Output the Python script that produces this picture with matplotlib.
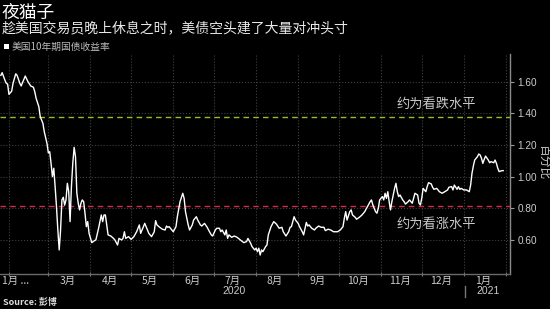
import matplotlib
matplotlib.use('Agg')
import matplotlib.pyplot as plt
import matplotlib.transforms as mtrans
from matplotlib.lines import Line2D
from matplotlib.patches import Rectangle
from matplotlib.ticker import FixedLocator, FixedFormatter, NullFormatter
import matplotlib.dates as mdates
import pandas as pd

plt.rcParams['font.family'] = ['Noto Sans CJK SC', 'DejaVu Sans']

# ---- data (days since 2020-01-01, US 10y yield in %) ----
day_offsets = [
    25, 26, 28, 29, 30, 31, 33, 34, 36, 37, 39, 40, 41, 43, 45, 47, 49, 50, 51, 53,
    54, 55, 56, 57, 59, 60, 61, 62, 63, 64, 65, 66, 67, 68, 69, 70, 71, 72, 73, 74,
    75, 76, 77, 78, 79, 80, 81, 82, 83, 84, 85, 86, 87, 88, 89, 90,
    92, 94, 95, 97, 99, 100, 101, 102, 104, 106, 108, 109, 111, 112, 114, 115, 116, 117, 119, 121,
    123, 125, 127, 128, 130, 131, 133, 134, 136, 138, 139, 140, 142, 144, 146, 147, 148, 149, 151,
    152, 154, 155, 157, 159, 160, 161, 163, 164, 166, 167, 169, 170, 172, 173, 175, 177, 178, 180, 181,
    183, 184, 186, 187, 188, 190, 191, 192, 193, 195, 197, 199, 200, 202, 204, 206, 207, 209, 210, 212,
    213, 214, 215, 216, 217, 218, 220, 221, 222, 224, 226, 228, 230, 232, 233, 235, 237, 238, 239, 241, 242,
    244, 245, 247, 248, 250, 251, 252, 254, 256, 257, 259, 261, 263, 264, 266, 268, 270, 272,
    273, 275, 277, 278, 279, 280, 282, 283, 284, 286, 287, 289, 291, 293, 295, 297, 298, 299, 301, 302, 303, 304,
    306, 307, 308, 309, 310, 311, 312, 313, 314, 315, 316, 317, 318, 319, 321, 322, 323, 325, 326, 328, 329, 330, 332, 333, 334,
    335, 336, 338, 339, 340, 342, 343, 344, 346, 348, 350, 352, 354, 355, 357, 358, 359, 361, 362, 363, 364,
    366, 368, 370, 371, 372, 373, 374, 376, 377, 378, 379, 380, 381, 382, 384, 385, 386, 388, 389, 390, 391, 392, 394, 395,
]
yield_pct = [
    1.640, 1.657, 1.610, 1.590, 1.585, 1.520, 1.540, 1.590, 1.650, 1.640, 1.590, 1.573, 1.594, 1.636, 1.600, 1.573, 1.565, 1.537, 1.495, 1.442,
    1.380, 1.358, 1.337, 1.284, 1.210, 1.150, 1.158, 1.084, 1.000, 1.053, 0.937, 0.810, 0.663, 0.537, 0.663, 0.853, 0.870, 0.820, 0.853, 0.958,
    0.905, 0.716, 0.937, 1.084, 1.185, 1.126, 0.895, 0.832, 0.790, 0.832, 0.853, 0.842, 0.769, 0.684, 0.716, 0.642,
    0.583, 0.596, 0.600, 0.674, 0.758, 0.716, 0.758, 0.758, 0.632, 0.625, 0.610, 0.600, 0.568, 0.610, 0.600, 0.610, 0.652, 0.610, 0.621, 0.604,
    0.621, 0.652, 0.695, 0.642, 0.684, 0.705, 0.663, 0.642, 0.621, 0.652, 0.722, 0.695, 0.680, 0.668, 0.663, 0.688, 0.680, 0.684, 0.663,
    0.652, 0.684, 0.747, 0.842, 0.895, 0.863, 0.779, 0.695, 0.663, 0.695, 0.726, 0.747, 0.726, 0.695, 0.688, 0.705, 0.680, 0.663, 0.632, 0.625,
    0.663, 0.674, 0.674, 0.652, 0.663, 0.632, 0.663, 0.610, 0.632, 0.617, 0.625, 0.617, 0.610, 0.596, 0.583, 0.590, 0.610, 0.579, 0.558, 0.537,
    0.548, 0.526, 0.548, 0.505, 0.537, 0.526, 0.558, 0.568, 0.632, 0.684, 0.716, 0.700, 0.674, 0.680, 0.652, 0.625, 0.652, 0.680, 0.684, 0.747, 0.726,
    0.705, 0.684, 0.652, 0.632, 0.711, 0.688, 0.695, 0.674, 0.663, 0.674, 0.688, 0.680, 0.680, 0.659, 0.668, 0.663, 0.652, 0.652,
    0.652, 0.663, 0.684, 0.737, 0.779, 0.726, 0.779, 0.790, 0.758, 0.743, 0.731, 0.743, 0.758, 0.779, 0.810, 0.842, 0.853, 0.821, 0.779, 0.769, 0.800, 0.853,
    0.874, 0.853, 0.895, 0.863, 0.905, 0.842, 0.790, 0.842, 0.884, 0.926, 0.958, 0.905, 0.874, 0.884, 0.853, 0.842, 0.827, 0.842, 0.853, 0.832, 0.863, 0.895, 0.884, 0.832, 0.821,
    0.863, 0.926, 0.905, 0.937, 0.962, 0.954, 0.933, 0.920, 0.926, 0.905, 0.895, 0.905, 0.916, 0.933, 0.937, 0.916, 0.947, 0.920, 0.937, 0.920, 0.926,
    0.916, 0.916, 0.905, 0.947, 1.021, 1.067, 1.105, 1.126, 1.143, 1.137, 1.116, 1.084, 1.109, 1.130, 1.105, 1.088, 1.095, 1.088, 1.105, 1.084, 1.053, 1.032, 1.038, 1.038,
]
bearish_level = 1.38
bullish_level = 0.815
y_ticks = [0.60, 0.80, 1.00, 1.20, 1.40, 1.60]
month_labels = ['3月', '4月', '5月', '6月', '7月', '8月', '9月', '10月', '11月', '12月', '1月']

title = '夜猫子'
subtitle = '趁美国交易员晚上休息之时，美债空头建了大量对冲头寸'
legend_label = '美国10年期国债收益率'
bearish_text = '约为看跌水平'
bullish_text = '约为看涨水平'
unit_text = '百分比'
source_text = 'Source: 彭博'

W, H = 550, 309
base = pd.Timestamp('2020-01-01')
dates = base + pd.to_timedelta(day_offsets, unit='D')

fig = plt.figure(figsize=(5.5, 3.09), dpi=100, facecolor='black')
ax = fig.add_axes([0, 35 / H, 510 / W, 220 / H])
ax.set_facecolor('black')

ax.plot(dates, yield_pct, color='white', lw=1.0, zorder=4)
ax.axhline(bearish_level, color='#95c11f', lw=1.0, ls=(0, (4, 3)), zorder=3)
ax.axhline(bullish_level, color='#d42a48', lw=1.0, ls=(0, (4, 3)), zorder=3)

ax.set_xlim(base + pd.Timedelta(days=24.4), base + pd.Timedelta(days=400))
ax.set_ylim(0.385, 1.775)

# x ticks: month starts (grid), mid-month labels
month_starts = pd.date_range('2020-02-01', '2021-02-01', freq='MS')
mid_months = pd.date_range('2020-03-01', '2021-01-01', freq='MS') + pd.Timedelta(days=14)
ax.xaxis.set_major_locator(FixedLocator(mdates.date2num(month_starts)))
ax.xaxis.set_major_formatter(NullFormatter())
ax.xaxis.set_minor_locator(FixedLocator(mdates.date2num(mid_months)))
ax.xaxis.set_minor_formatter(FixedFormatter(month_labels))
ax.tick_params(axis='x', which='major', length=2.5, direction='inout', color='#777777', width=0.8)
ax.tick_params(axis='x', which='minor', length=0, pad=1.5, labelsize=7.5, labelcolor='#cccccc')

ax.yaxis.tick_right()
ax.set_yticks(y_ticks)
ax.set_yticklabels([f'{v:.2f}' for v in y_ticks], family=['Liberation Sans', 'DejaVu Sans'])
ax.tick_params(axis='y', length=3, color='#999999', width=0.8, pad=2.5, labelsize=7.2, labelcolor='#cccccc')

ax.grid(True, which='major', color='#404040', ls=':', lw=0.8)
ax.grid(False, which='minor')

for s in ['left', 'top']:
    ax.spines[s].set_visible(False)
ax.spines['right'].set_color('#8a8a8a')
ax.spines['right'].set_linewidth(1.0)
ax.spines['bottom'].set_color('#6a6a6a')
ax.spines['bottom'].set_linewidth(1.0)

# annotations for the levels
blend = mtrans.blended_transform_factory(ax.transAxes, ax.transData)
ax.text(397 / 510, 1.456, bearish_text, transform=blend, fontsize=9.5, color='#c8c8c8', va='center', ha='left')
ax.text(397 / 510, 0.701, bullish_text, transform=blend, fontsize=9.5, color='#c8c8c8', va='center', ha='left')

# year labels and separator
xt = ax.get_xaxis_transform()
ax.text(pd.Timestamp('2020-07-16'), -17.5 / 220, '2020', transform=xt, fontsize=7.5,
        color='#cccccc', ha='center', va='center', family=['Liberation Sans', 'DejaVu Sans'])
ax.text(pd.Timestamp('2021-01-19'), -17.5 / 220, '2021', transform=xt, fontsize=7.5,
        color='#cccccc', ha='center', va='center', family=['Liberation Sans', 'DejaVu Sans'])
sep_x = mdates.date2num(pd.Timestamp('2021-01-02'))
ax.add_line(Line2D([sep_x, sep_x], [-12 / 220, -23 / 220], transform=xt, color='#777777',
                   lw=1.0, clip_on=False))

# first (truncated) month label
fig.text(2 / W, 1 - 280.5 / H, '1月 ...', fontsize=7.5, color='#cccccc', va='center', ha='left')

# titles, legend, unit, source
fig.text(2 / W, 1 - 12.5 / H, title, fontsize=12.8, color='white', va='center', ha='left')
fig.text(2 / W, 1 - 28.5 / H, subtitle, fontsize=10, color='#e8e8e8', va='center', ha='left')
fig.patches.append(Rectangle((4 / W, 1 - 49 / H), 5 / W, 5 / H, transform=fig.transFigure,
                             facecolor='white', edgecolor='none'))
fig.text(12 / W, 1 - 46.5 / H, legend_label, fontsize=7, color='#bbbbbb', va='center', ha='left')
fig.text(543.5 / W, 1 - 162 / H, unit_text, rotation=-90, fontsize=8.5, color='#c8c8c8',
         va='center', ha='center')
fig.text(3 / W, 1 - 302.5 / H, source_text, fontsize=6.5, fontweight='bold', color='#dddddd',
         va='center', ha='left')

fig.savefig('out.png', dpi=100, facecolor='black')
